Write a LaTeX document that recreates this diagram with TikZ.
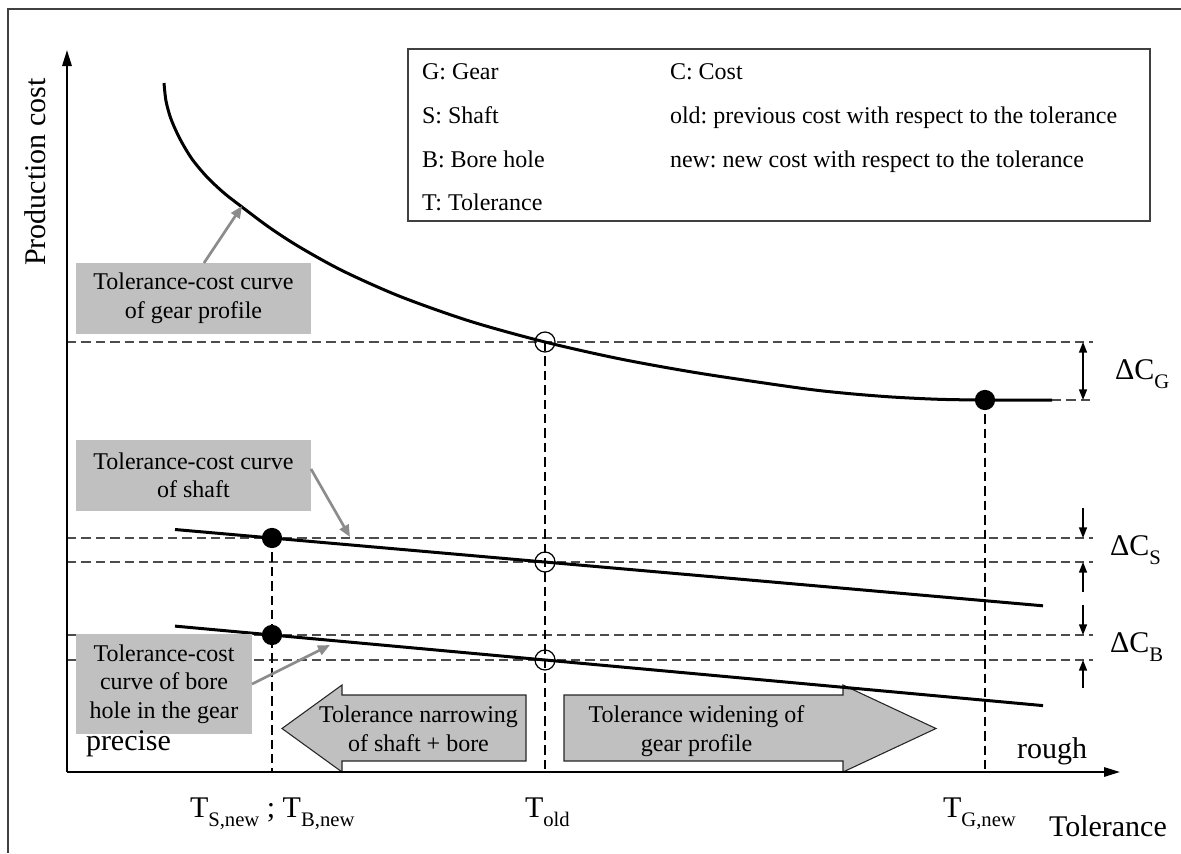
\documentclass[tikz,border=0pt]{standalone}
\usepackage{fontspec}
\setmainfont{Liberation Serif}
\usetikzlibrary{arrows.meta,calc}
\definecolor{boxgray}{RGB}{192,192,192}
\definecolor{pointergray}{RGB}{140,140,140}
\newcommand{\legendfont}{\fontsize{18}{21}\selectfont}
\newcommand{\boxfont}{\fontsize{18}{21.4}\selectfont}
\newcommand{\bigfont}{\fontsize{22.5}{27}\selectfont}
\newcommand{\lowsub}[1]{\raisebox{-7pt}{\fontsize{15.5}{16}\selectfont #1}}
\frenchspacing
\begin{document}
\begin{tikzpicture}[x=0.75pt,y=-0.75pt,
  every node/.style={inner sep=0pt,outer sep=0pt},
  frameline/.style={draw=black!75,line width=1.1pt},
  axisline/.style={line width=1.5pt,-{Triangle[length=12pt,width=7pt]}},
  costcurve/.style={line width=2.25pt,line join=round},
  hdash/.style={draw=black!70,line width=1.1pt,dash pattern=on 7pt off 3.8pt},
  vdash/.style={draw=black,line width=0.9pt,dash pattern=on 7pt off 3.8pt},
  newdot/.style={fill=black},
  olddot/.style={draw=black,line width=0.9pt},
  dimarrow/.style={line width=1.1pt,-{Triangle[length=8pt,width=6pt]}},
  dimboth/.style={line width=1.1pt,{Triangle[length=8pt,width=6pt]}-{Triangle[length=8pt,width=6pt]}},
  graybox/.style={fill=boxgray,align=center,font=\boxfont},
  pointer/.style={draw=pointergray,line width=2pt,-{Triangle[length=9pt,width=7.5pt]}},
  blockarrow/.style={fill=boxgray,draw=black!85,line width=0.8pt},
  legendtext/.style={anchor=base west,font=\legendfont},
  bigtext/.style={font=\bigfont}
]
\useasboundingbox (0,0) rectangle (1181,853);

% outer frame (left and top edges)
\draw[frameline] (8,853) -- (8,9) -- (1181,9);

% legend
\draw[frameline,fill=white] (408,49) rectangle (1150,221);
\node[legendtext] (lg1) at (422,79)  {G: Gear};
\node[legendtext] (lg2) at (422,123) {S: Shaft};
\node[legendtext] (lg3) at (422,167) {B: Bore hole};
\node[legendtext] (lg4) at (422,210) {T: Tolerance};
\node[legendtext] (lc1) at (670,79)  {C: Cost};
\node[legendtext] (lc2) at (670,123) {old: previous cost with respect to the tolerance};
\node[legendtext] (lc3) at (670,167) {new: new cost with respect to the tolerance};

% key points
\coordinate (O) at (67,772);
\coordinate (dimR) at (1093,0);
\coordinate (dimX) at (1083,0);
\coordinate (gold) at (545,342);
\coordinate (gnew) at (985,400);
\coordinate (gend) at (1052,400);
\coordinate (sold) at (545,562);
\coordinate (snew) at (272,538);
\coordinate (bold) at (545,660);
\coordinate (bnew) at (272,635);

% horizontal reference lines
\draw[hdash] (O |- gold) -- (dimR |- gold);
\draw[hdash] (gend) -- (dimR |- gnew);
\draw[hdash] (O |- snew) -- (dimR |- snew);
\draw[hdash] (O |- sold) -- (dimR |- sold);
\draw[hdash] (O |- bnew) -- (dimR |- bnew);
\draw[hdash] (O |- bold) -- (dimR |- bold);

% vertical reference lines
\draw[vdash] (snew) -- (snew |- O);
\draw[vdash] (gold) -- (gold |- O);
\draw[vdash] (gnew) -- (gnew |- O);

% block arrows
\filldraw[blockarrow] (526,695) -- (342,695) -- (342,685) -- (282,728.5) -- (342,772) -- (342,761) -- (526,761) -- cycle;
\filldraw[blockarrow] (564,695) -- (843,695) -- (843,685) -- (936,728.5) -- (843,772) -- (843,761) -- (564,761) -- cycle;
\node[font=\boxfont,align=center] (narrow) at (418.5,729) {Tolerance narrowing\\of shaft + bore};
\node[font=\boxfont,align=center] (widen) at (696.5,731) {Tolerance widening of\\gear profile};

% tolerance-cost curves
\draw[costcurve] plot[smooth,tension=0.5] coordinates {(164,83) (166,101) (171,119) (180,139) (192,159) (207,177) (224,193) (242,207) (270,227.9) (300,247.3) (343,271) (400,296.4) (470,321.2) (545,342) (620,358.9) (700,373.3) (800,388.1) (846,393.3) (892,397) (939,399.3) (985,400) (1052,400)};
\draw[costcurve] (175,529.5) -- (1043,605.8);
\draw[costcurve] (175,626.1) -- (1043,705.6);

% cost points
\fill[newdot] (snew) circle[radius=7.6pt];
\fill[newdot] (bnew) circle[radius=7.6pt];
\fill[newdot] (gnew) circle[radius=7.6pt];
\draw[olddot] (gold) circle[radius=7.5pt];
\draw[olddot] (sold) circle[radius=7.5pt];
\draw[olddot] (bold) circle[radius=7.5pt];

% labels of the curves
\node[graybox,minimum width=176.25pt,minimum height=53.25pt] (gearlbl) at (193.5,298.5) {Tolerance-cost curve\\of gear profile};
\node[graybox,minimum width=176.25pt,minimum height=53.25pt] (shaftlbl) at (193.5,475.5) {Tolerance-cost curve\\of shaft};
\node[graybox,minimum width=132pt,minimum height=75pt] (borelbl) at (164,684) {Tolerance-cost\\curve of bore\\hole in the gear};
\coordinate (gearhit) at (242,206);
\coordinate (shafthit) at (350,537);
\coordinate (borehit) at (330,645);
\draw[pointer] ($(gearlbl.north)+(10.5,0)$) -- (gearhit);
\draw[pointer] ($(shaftlbl.east)+(0,-6.5)$) -- (shafthit);
\draw[pointer] (borelbl.east) -- (borehit);

% cost differences
\draw[dimboth] (dimX |- gold) -- (dimX |- gnew);
\draw[dimarrow] (1083,508) -- (dimX |- snew);
\draw[dimarrow] (1083,592) -- (dimX |- sold);
\draw[dimarrow] (1083,605) -- (dimX |- bnew);
\draw[dimarrow] (1083,688) -- (dimX |- bold);
\node[bigtext,anchor=base west] (dcg) at (1115,379) {ΔC\lowsub{G}};
\node[bigtext,anchor=base west] (dcs) at (1110,555) {ΔC\lowsub{S}};
\node[bigtext,anchor=base west] (dcb) at (1110,652) {ΔC\lowsub{B}};

% axes
\draw[axisline] (O) -- (67,50);
\draw[axisline] (O) -- (1120,772);
\node[bigtext,rotate=90,anchor=base] (ylbl) at (45,172) {Production cost};
\node[bigtext,anchor=base west] (xlbl) at (1049,836) {Tolerance};
\node[bigtext,anchor=base west] (precise) at (86,750) {precise};
\node[bigtext,anchor=base west] (rough) at (1017,758) {rough};
\node[bigtext,anchor=base west] (tsb) at (190,817) {T\lowsub{S,new} ; T\lowsub{B,new}};
\node[bigtext,anchor=base west] (told) at (525,817) {T\lowsub{old}};
\node[bigtext,anchor=base west] (tg) at (943,817) {T\lowsub{G,new}};
\end{tikzpicture}
\end{document}
